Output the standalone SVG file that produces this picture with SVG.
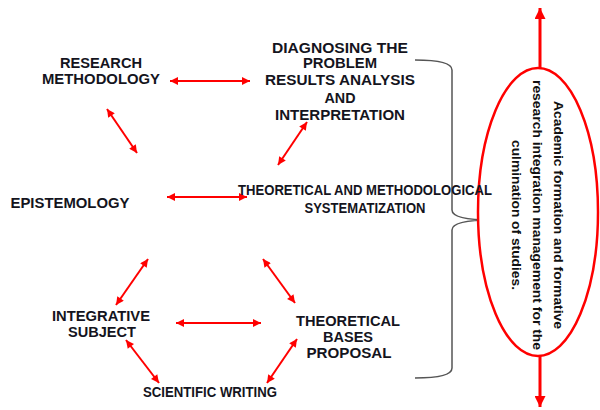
<svg xmlns="http://www.w3.org/2000/svg" width="600" height="410" viewBox="0 0 600 410">
<defs>
<style>
.t{font-family:"Liberation Sans",Arial,sans-serif;font-weight:bold;font-size:14px;fill:#141420;text-anchor:middle}
.v{font-family:"Liberation Sans",Arial,sans-serif;font-weight:bold;font-size:12.5px;fill:#111;text-anchor:middle}
.c{stroke:#ff0000;stroke-width:2;fill:none;marker-start:url(#ah);marker-end:url(#ah)}
</style>
<marker id="ah" viewBox="0 0 10 10" refX="10" refY="5" markerUnits="userSpaceOnUse" markerWidth="9" markerHeight="8" orient="auto-start-reverse">
<path d="M0,0 L10,5 L0,10 z" fill="#ff0000"/>
</marker>
<marker id="bh" viewBox="0 0 10 10" refX="10" refY="5" markerUnits="userSpaceOnUse" markerWidth="11" markerHeight="11" orient="auto-start-reverse">
<path d="M0,0 L10,5 L0,10 z" fill="#ff0000"/>
</marker>
</defs>
<rect width="600" height="410" fill="#fff"/>

<g id="connectors">
<line class="c" x1="170" y1="81" x2="250" y2="81"/>
<line class="c" x1="107" y1="109" x2="137" y2="153"/>
<line class="c" x1="307" y1="122" x2="278" y2="165"/>
<line class="c" x1="167" y1="197" x2="247" y2="197"/>
<line class="c" x1="148" y1="259" x2="116" y2="305"/>
<line class="c" x1="263" y1="259" x2="295" y2="303"/>
<line class="c" x1="176" y1="323" x2="261" y2="323"/>
<line class="c" x1="126" y1="340" x2="159" y2="383"/>
<line class="c" x1="297" y1="339" x2="267" y2="383"/>
<line x1="540" y1="8" x2="540" y2="407" stroke="#ff0000" stroke-width="3" marker-start="url(#bh)" marker-end="url(#bh)"/>
<path id="brace" d="M415,60 Q452,60 452,70 L452,210 Q452,220 492,220 Q452,220 452,230 L452,368 Q452,378 415,378" fill="none" stroke="#555" stroke-width="1.5"/>
</g>

<g id="culmination">
<ellipse cx="538" cy="212" rx="60" ry="144" fill="#fff" stroke="#ff0000" stroke-width="2.5"/>
<g transform="translate(538,215) rotate(90)">
<text class="v" x="0" y="-16" textLength="228" lengthAdjust="spacingAndGlyphs">Academic formation and formative</text>
<text class="v" x="0" y="5" textLength="270" lengthAdjust="spacingAndGlyphs">research integration management for the</text>
<text class="v" x="0" y="26" textLength="150" lengthAdjust="spacingAndGlyphs">culmination of studies.</text>
</g>
</g>

<g id="research-methodology">
<text class="t" x="101" y="68" textLength="82" lengthAdjust="spacingAndGlyphs">RESEARCH</text>
<text class="t" x="101" y="84" textLength="118" lengthAdjust="spacingAndGlyphs">METHODOLOGY</text>
</g>

<g id="diagnosing">
<text class="t" x="340" y="53" textLength="136" lengthAdjust="spacingAndGlyphs">DIAGNOSING  THE</text>
<text class="t" x="340" y="68" textLength="74" lengthAdjust="spacingAndGlyphs">PROBLEM</text>
<text class="t" x="340" y="85" textLength="150" lengthAdjust="spacingAndGlyphs">RESULTS ANALYSIS</text>
<text class="t" x="340" y="103" textLength="31" lengthAdjust="spacingAndGlyphs">AND</text>
<text class="t" x="340" y="120" textLength="130" lengthAdjust="spacingAndGlyphs">INTERPRETATION</text>
</g>

<g id="epistemology">
<text class="t" x="70" y="208" textLength="119" lengthAdjust="spacingAndGlyphs">EPISTEMOLOGY</text>
</g>

<g id="systematization">
<text class="t" x="365" y="195" textLength="254" lengthAdjust="spacingAndGlyphs">THEORETICAL AND METHODOLOGICAL</text>
<text class="t" x="365" y="213" textLength="121" lengthAdjust="spacingAndGlyphs">SYSTEMATIZATION</text>
</g>

<g id="integrative-subject">
<text class="t" x="101" y="321" textLength="98" lengthAdjust="spacingAndGlyphs">INTEGRATIVE</text>
<text class="t" x="102" y="337" textLength="68" lengthAdjust="spacingAndGlyphs">SUBJECT</text>
</g>

<g id="theoretical-bases">
<text class="t" x="348" y="326" textLength="104" lengthAdjust="spacingAndGlyphs">THEORETICAL</text>
<text class="t" x="348" y="342" textLength="50" lengthAdjust="spacingAndGlyphs">BASES</text>
<text class="t" x="349" y="358" textLength="85" lengthAdjust="spacingAndGlyphs">PROPOSAL</text>
</g>

<g id="scientific-writing">
<text class="t" x="210" y="397" textLength="134" lengthAdjust="spacingAndGlyphs">SCIENTIFIC WRITING</text>
</g>
</svg>
